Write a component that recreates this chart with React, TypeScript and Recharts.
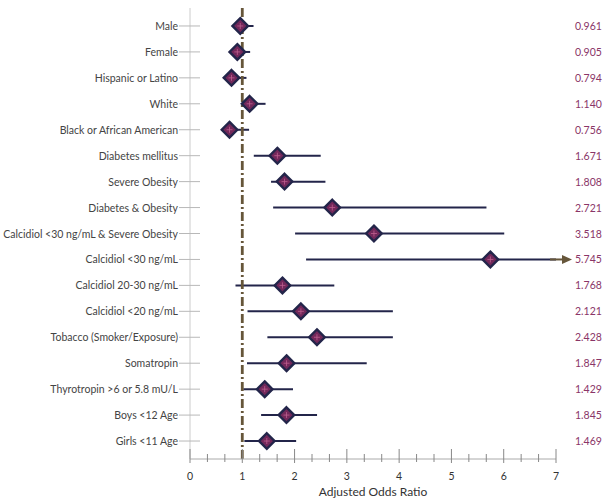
import React from 'react';
import { ComposedChart, XAxis, YAxis, Bar, Line, ReferenceLine } from 'recharts';

const categories = [
  'Male', 'Female', 'Hispanic or Latino', 'White', 'Black or African American',
  'Diabetes mellitus', 'Severe Obesity', 'Diabetes & Obesity',
  'Calcidiol <30 ng/mL & Severe Obesity', 'Calcidiol <30 ng/mL', 'Calcidiol 20-30 ng/mL',
  'Calcidiol <20 ng/mL', 'Tobacco (Smoker/Exposure)', 'Somatropin',
  'Thyrotropin >6 or 5.8 mU/L', 'Boys <12 Age', 'Girls <11 Age',
];
const oddsRatios = [0.961, 0.905, 0.794, 1.14, 0.756, 1.671, 1.808, 2.721, 3.518, 5.745, 1.768, 2.121, 2.428, 1.847, 1.429, 1.845, 1.469];
const lowerCI = [0.82, 0.79, 0.64, 1.0, 0.63, 1.22, 1.55, 1.59, 2.01, 2.22, 0.87, 1.1, 1.48, 1.09, 1.02, 1.36, 1.04];
const upperCI = [1.215, 1.15, 1.08, 1.445, 1.13, 2.5, 2.59, 5.67, 6.01, 7.0, 2.76, 3.88, 3.88, 3.38, 1.97, 2.43, 2.03];
const truncated = [false, false, false, false, false, false, false, false, false, true, false, false, false, false, false, false, false];
const valueLabels = ['0.961', '0.905', '0.794', '1.140', '0.756', '1.671', '1.808', '2.721', '3.518', '5.745', '1.768', '2.121', '2.428', '1.847', '1.429', '1.845', '1.469'];
const majorTicks = [0, 1, 2, 3, 4, 5, 6, 7];
const allTicks = majorTicks.flatMap((t, i) => (i < majorTicks.length - 1 ? [t, t + 1 / 3, t + 2 / 3] : [t]));

const data = categories.map((name, i) => ({
  name,
  or: oddsRatios[i],
  range: [lowerCI[i], upperCI[i]],
  truncated: truncated[i],
  label: valueLabels[i],
}));

const NAVY = '#23254a';
const BROWN = '#66563a';
const FONT = 'Lato, "Noto Sans", sans-serif';

const CIShape = (props: any) => {
  const { x, y, width, height, payload } = props;
  const cy = y + height / 2;
  return (
    <g>
      <line x1={x} x2={x + width} y1={cy} y2={cy} stroke={NAVY} strokeWidth={2} />
      {payload.truncated && (
        <g>
          <line x1={x + width - 6} x2={x + width + 7} y1={cy} y2={cy} stroke={BROWN} strokeWidth={2} />
          <polygon points={`${x + width + 6},${cy - 4.5} ${x + width + 16},${cy} ${x + width + 6},${cy + 4.5}`} fill={BROWN} />
        </g>
      )}
    </g>
  );
};

const Diamond = (props: any) => {
  const { cx, cy } = props;
  if (cx == null || cy == null) return null;
  const r = 7.8;
  return (
    <g>
      <polygon points={`${cx},${cy - r} ${cx + r},${cy} ${cx},${cy + r} ${cx - r},${cy}`} fill="#72285a" stroke={NAVY} strokeWidth={2.4} />
      <line x1={cx - 3} x2={cx + 3} y1={cy} y2={cy} stroke="#c06090" strokeWidth={0.8} />
      <line x1={cx} x2={cx} y1={cy - 3} y2={cy + 3} stroke="#c06090" strokeWidth={0.8} />
    </g>
  );
};

const LeftTick = (props: any) => {
  const { x, y, payload } = props;
  return (
    <g>
      <line x1={x - 11} x2={x + 10} y1={y} y2={y} stroke="#b8b8b8" strokeWidth={1} />
      <text x={x - 12} y={y} dy={4} textAnchor="end" fontSize={10.5} fill="#444" fontFamily={FONT}>
        {payload.value}
      </text>
    </g>
  );
};

const RightTick = (props: any) => {
  const { x, y, payload } = props;
  return (
    <text x={x + 19} y={y} dy={4} textAnchor="start" fontSize={10.5} fill="#8a3567" fontFamily={FONT}>
      {payload.value}
    </text>
  );
};

const BottomTick = (props: any) => {
  const { x, y, payload } = props;
  const v = payload.value;
  const isMajor = Math.abs(v - Math.round(v)) < 1e-6;
  return (
    <g>
      <line x1={x} x2={x} y1={isMajor ? y - 10 : y - 5} y2={isMajor ? y + 4 : y + 3} stroke="#888" strokeWidth={1} />
      {isMajor && (
        <text x={x} y={y + 21} textAnchor="middle" fontSize={10.5} fill="#333" fontFamily={FONT}>
          {Math.round(v)}
        </text>
      )}
    </g>
  );
};

export default function App() {
  return (
    <div style={{ position: 'absolute', left: 0, top: 0, width: 608, height: 501, background: '#fff' }}>
      <ComposedChart width={608} height={501} data={data} layout="vertical" margin={{ top: 8, right: 10, bottom: 0, left: 0 }}>
        <XAxis
          type="number"
          domain={[0, 7]}
          ticks={allTicks}
          interval={0}
          tickLine={false}
          tickSize={0}
          tickMargin={0}
          axisLine={{ stroke: '#aaa' }}
          tick={<BottomTick />}
          height={42}
          label={{ value: 'Adjusted Odds Ratio', position: 'insideBottom', offset: 5, fontSize: 12, fill: '#333', fontFamily: FONT }}
        />
        <YAxis
          yAxisId="left"
          type="category"
          dataKey="name"
          width={190}
          padding={{ top: 5, bottom: 5 }}
          tickLine={false}
          tickSize={0}
          tickMargin={0}
          axisLine={{ stroke: '#ccc' }}
          tick={<LeftTick />}
          interval={0}
        />
        <YAxis
          yAxisId="right"
          orientation="right"
          type="category"
          dataKey="label"
          width={42}
          padding={{ top: 5, bottom: 5 }}
          tickLine={false}
          tickSize={0}
          tickMargin={0}
          axisLine={false}
          tick={<RightTick />}
          interval={0}
        />
        <ReferenceLine yAxisId="left" x={1} stroke={BROWN} strokeWidth={2.8} strokeDasharray="9 3 2 3" />
        <Bar yAxisId="left" dataKey="range" barSize={2} shape={<CIShape />} isAnimationActive={false} />
        <Line yAxisId="left" dataKey="or" stroke="none" dot={<Diamond />} activeDot={false} isAnimationActive={false} />
      </ComposedChart>
    </div>
  );
}
